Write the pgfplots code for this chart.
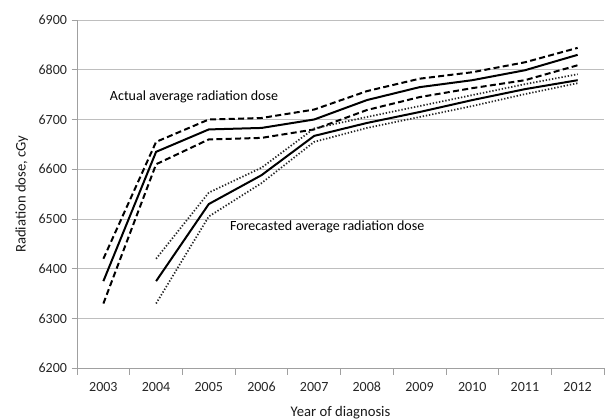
\documentclass[border=0pt]{standalone}
\usepackage{fontspec}
\setmainfont{Carlito}
\usepackage{pgfplots}
\pgfplotsset{compat=1.18}
\usetikzlibrary{calc}

\definecolor{gridgray}{RGB}{190,190,190}
\definecolor{axgray}{RGB}{160,160,160}

\begin{document}
\begin{tikzpicture}
\begin{axis}[
  name=ax,
  scale only axis,
  width=395pt, height=261pt,
  xmin=2002.5, xmax=2012.5,
  ymin=6200, ymax=6900,
  xtick={2003,...,2012},
  minor xtick={2002.5,2003.5,...,2012.5},
  ytick={6200,6300,...,6900},
  major x tick style={draw=none},
  minor tick length=5pt,
  major tick length=4pt,
  tick align=outside,
  tick style={axgray, line width=0.6pt},
  axis lines*=left,
  axis line style={axgray, line width=0.7pt},
  ymajorgrids,
  grid style={gridgray, line width=0.7pt},
  /pgf/number format/.cd, 1000 sep={}, assume math mode=true,
  /pgfplots/.cd,
  tick label style={font=\fontsize{10.5}{12}\selectfont, text=black!85},
  xticklabel style={yshift=-3pt},
  ylabel={Radiation dose, cGy},
  xlabel={Year of diagnosis},
  label style={font=\fontsize{11}{13}\selectfont, text=black!90},
  ylabel style={yshift=1pt},
  xlabel style={yshift=-4pt},
  clip=false,
]
% actual average
\addplot[black, line width=1.5pt] coordinates {
  (2003,6375) (2004,6635) (2005,6680) (2006,6683) (2007,6700)
  (2008,6739) (2009,6765) (2010,6779) (2011,6799) (2012,6830)
};
\addplot[black, line width=1.5pt, dash pattern=on 4.5pt off 2.5pt] coordinates {
  (2003,6420) (2004,6655) (2005,6700) (2006,6703) (2007,6720)
  (2008,6757) (2009,6782) (2010,6795) (2011,6815) (2012,6844)
};
\addplot[black, line width=1.5pt, dash pattern=on 4.5pt off 2.5pt] coordinates {
  (2003,6330) (2004,6610) (2005,6660) (2006,6663) (2007,6680)
  (2008,6719) (2009,6745) (2010,6763) (2011,6779) (2012,6809)
};
% forecasted average
\addplot[black, line width=1.5pt] coordinates {
  (2004,6375) (2005,6530) (2006,6588) (2007,6667)
  (2008,6693) (2009,6715) (2010,6739) (2011,6761) (2012,6779)
};
\addplot[black!85, line width=1.3pt, dash pattern=on 1pt off 1.4pt] coordinates {
  (2004,6420) (2005,6553) (2006,6603) (2007,6682)
  (2008,6705) (2009,6727) (2010,6749) (2011,6771) (2012,6791)
};
\addplot[black!85, line width=1.3pt, dash pattern=on 1pt off 1.4pt] coordinates {
  (2004,6330) (2005,6505) (2006,6572) (2007,6655)
  (2008,6683) (2009,6705) (2010,6727) (2011,6751) (2012,6773)
};
\node[anchor=west, font=\fontsize{10.5}{12}\selectfont, inner sep=0pt] at (axis cs:2003.12,6745) {Actual average radiation dose};
\node[anchor=west, font=\fontsize{10.5}{12}\selectfont, inner sep=0pt] at (axis cs:2005.4,6485) {Forecasted average radiation dose};
\end{axis}
\pgfresetboundingbox
\path ($(ax.south west)+(-57.75pt,-38.25pt)$) rectangle ($(ax.north east)+(1.5pt,15pt)$);
\end{tikzpicture}
\end{document}
